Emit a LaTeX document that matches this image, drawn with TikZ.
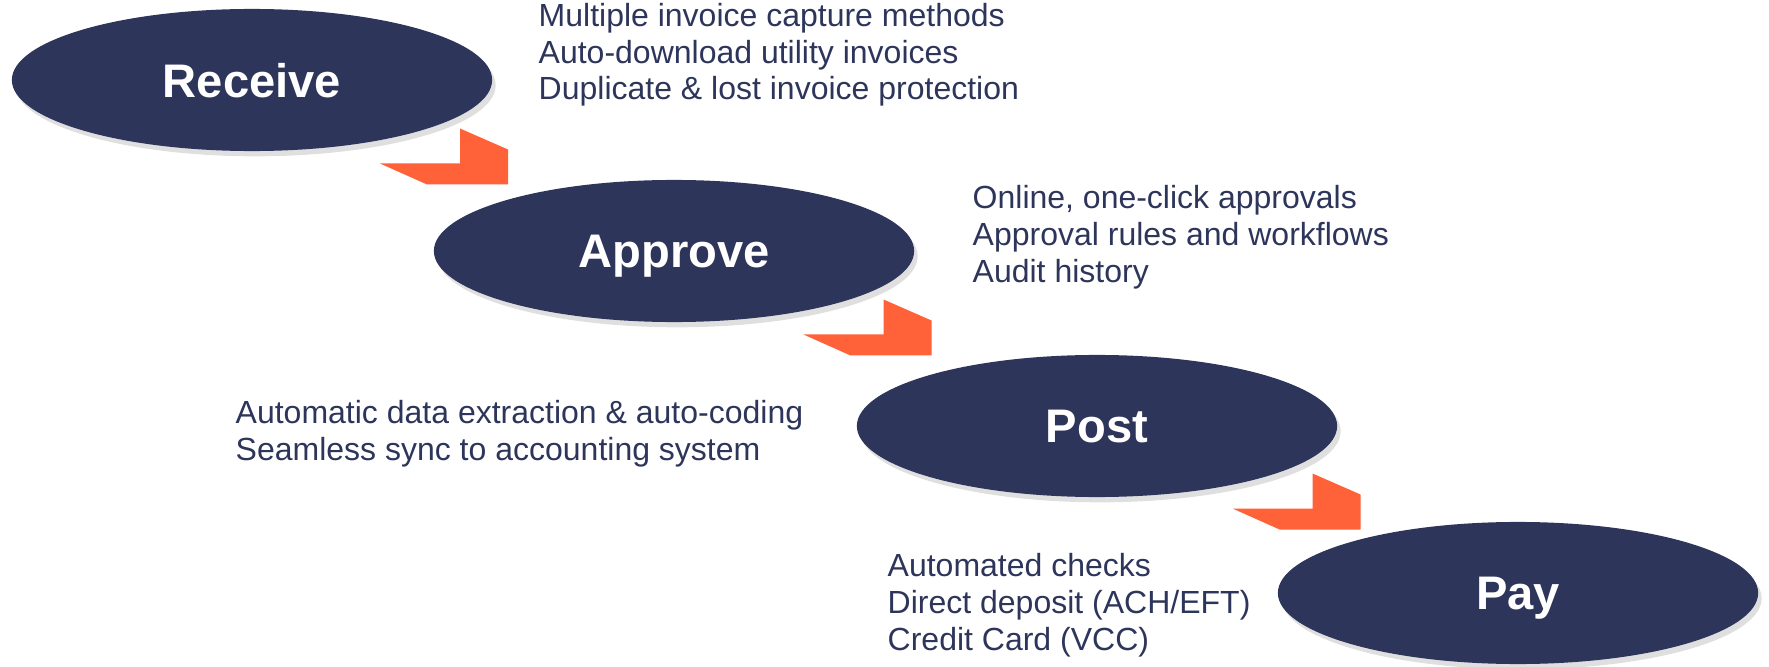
\documentclass[tikz,border=0pt]{standalone}
\usepackage{fontspec}
\setmainfont{Liberation Sans}
\usetikzlibrary{shapes.geometric,shadows,calc}

\definecolor{stagenavy}{RGB}{45,53,90}
\definecolor{chevronorange}{RGB}{255,97,56}

\tikzset{
	stage/.style={ellipse, fill=stagenavy, minimum width=4.8cm, minimum height=1.42cm, inner sep=0pt, text=white, text depth=0pt, font=\bfseries\fontsize{13.4}{16}\selectfont, drop shadow={shadow xshift=1pt, shadow yshift=-1.5pt, opacity=0.25}},
	notes/.style={align=left, anchor=base west, inner sep=0pt, text=stagenavy, font=\fontsize{9.1}{10.5}\selectfont},
	chevron/.pic={\fill[chevronorange] (-80,0) -- (0,0) -- (0,-35) -- (48,-14) -- (48,21) -- (-33,21) -- cycle;}
}

\begin{document}
\begin{tikzpicture}[x=0.01cm,y=-0.01cm]

			\useasboundingbox (0,0) rectangle (1769,667);

			\node[stage] (receive) at (252,80) {Receive};
			\node[stage] (approve) at (674,251) {Approve};
			\node[stage] (post) at (1097,426) {Post};
			\node[stage] (pay) at (1518,593) {Pay};

			\pic at ($(receive)!0.5!(approve)+(-3,-2)$) {chevron};
			\pic at ($(approve)!0.5!(post)+(-2,-4)$) {chevron};
			\pic at ($(post)!0.5!(pay)+(5,-1)$) {chevron};

			\node[notes] (receivenotes) at (538,100) {Multiple invoice capture methods\\Auto-download utility invoices\\Duplicate \& lost invoice protection};
			\node[notes] (approvenotes) at (972,282) {Online, one-click approvals\\Approval rules and workflows\\Audit history};
			\node[notes] (postnotes) at (235,460) {Automatic data extraction \& auto-coding\\Seamless sync to accounting system};
			\node[notes] (paynotes) at (887,650) {Automated checks\\Direct deposit (ACH/EFT)\\Credit Card (VCC)};

\end{tikzpicture}
\end{document}
